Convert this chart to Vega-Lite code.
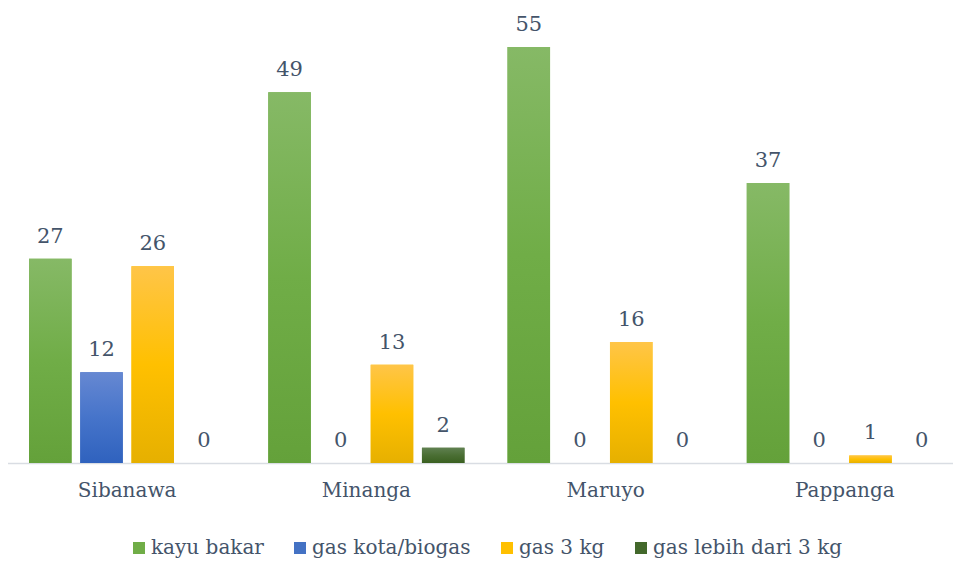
{
  "$schema": "https://vega.github.io/schema/vega-lite/v6.json",
  "width": 957,
  "height": 463,
  "autosize": {"type": "none"},
  "padding": {"left": 7.5, "top": 0, "right": 0, "bottom": 98},
  "background": "white",
  "config": {
    "view": {"stroke": null},
    "font": "DejaVu Serif",
    "axis": {"labelFont": "DejaVu Serif"},
    "legend": {"labelFont": "DejaVu Serif"}
  },
  "data": {
    "values": [
      {"desa": "Sibanawa", "jenis": "kayu bakar", "jumlah": 27},
      {"desa": "Sibanawa", "jenis": "gas kota/biogas", "jumlah": 12},
      {"desa": "Sibanawa", "jenis": "gas 3 kg", "jumlah": 26},
      {"desa": "Sibanawa", "jenis": "gas lebih dari 3 kg", "jumlah": 0},
      {"desa": "Minanga", "jenis": "kayu bakar", "jumlah": 49},
      {"desa": "Minanga", "jenis": "gas kota/biogas", "jumlah": 0},
      {"desa": "Minanga", "jenis": "gas 3 kg", "jumlah": 13},
      {"desa": "Minanga", "jenis": "gas lebih dari 3 kg", "jumlah": 2},
      {"desa": "Maruyo", "jenis": "kayu bakar", "jumlah": 55},
      {"desa": "Maruyo", "jenis": "gas kota/biogas", "jumlah": 0},
      {"desa": "Maruyo", "jenis": "gas 3 kg", "jumlah": 16},
      {"desa": "Maruyo", "jenis": "gas lebih dari 3 kg", "jumlah": 0},
      {"desa": "Pappanga", "jenis": "kayu bakar", "jumlah": 37},
      {"desa": "Pappanga", "jenis": "gas kota/biogas", "jumlah": 0},
      {"desa": "Pappanga", "jenis": "gas 3 kg", "jumlah": 1},
      {"desa": "Pappanga", "jenis": "gas lebih dari 3 kg", "jumlah": 0}
    ]
  },
  "encoding": {
    "x": {
      "field": "desa",
      "type": "nominal",
      "sort": ["Sibanawa", "Minanga", "Maruyo", "Pappanga"],
      "scale": {"domain": ["Sibanawa", "Minanga", "Maruyo", "Pappanga"], "paddingInner": 0.18, "paddingOuter": 0.09},
      "axis": {
        "title": null,
        "labelAngle": 0,
        "labelFontSize": 20,
        "labelColor": "#44546A",
        "labelPadding": 17,
        "ticks": false,
        "domainColor": "#D9DDE3",
        "domainWidth": 1.5
      }
    },
    "xOffset": {
      "field": "jenis",
      "type": "nominal",
      "scale": {"domain": ["kayu bakar", "gas kota/biogas", "gas 3 kg", "gas lebih dari 3 kg"], "paddingInner": 0.17, "paddingOuter": 0}
    },
    "y": {
      "field": "jumlah",
      "type": "quantitative",
      "scale": {"domain": [0, 61.2], "nice": false, "zero": true},
      "axis": null
    }
  },
  "layer": [
    {
      "mark": {"type": "bar"},
      "encoding": {
        "color": {
          "field": "jenis",
          "type": "nominal",
          "scale": {"domain": ["kayu bakar", "gas kota/biogas", "gas 3 kg", "gas lebih dari 3 kg"], "range": ["#70AD47", "#4472C4", "#FFC000", "#43682B"]},
          "legend": {
            "title": null,
            "orient": "none",
            "legendX": 121.5,
            "legendY": 538,
            "direction": "horizontal",
            "columns": 4,
            "columnPadding": 26,
            "symbolType": "square",
            "symbolSize": 144,
            "symbolStrokeWidth": 0,
            "labelOffset": 2,
            "labelFontSize": 20,
            "labelColor": "#44546A",
            "labelLimit": 400
          }
        }
      }
    },
    {
      "transform": [{"filter": "datum.jenis === 'kayu bakar'"}],
      "mark": {"type": "bar", "color": {"gradient": "linear", "x1": 0, "y1": 0, "x2": 0, "y2": 1, "stops": [{"offset": 0, "color": "#86B966"}, {"offset": 0.5, "color": "#70AD47"}, {"offset": 1, "color": "#64A13A"}]}}
    },
    {
      "transform": [{"filter": "datum.jenis === 'gas kota/biogas'"}],
      "mark": {"type": "bar", "color": {"gradient": "linear", "x1": 0, "y1": 0, "x2": 0, "y2": 1, "stops": [{"offset": 0, "color": "#6688D2"}, {"offset": 0.5, "color": "#4674CA"}, {"offset": 1, "color": "#2F62BE"}]}}
    },
    {
      "transform": [{"filter": "datum.jenis === 'gas 3 kg'"}],
      "mark": {"type": "bar", "color": {"gradient": "linear", "x1": 0, "y1": 0, "x2": 0, "y2": 1, "stops": [{"offset": 0, "color": "#FFC548"}, {"offset": 0.5, "color": "#FFC000"}, {"offset": 1, "color": "#E6B000"}]}}
    },
    {
      "transform": [{"filter": "datum.jenis === 'gas lebih dari 3 kg'"}],
      "mark": {"type": "bar", "color": {"gradient": "linear", "x1": 0, "y1": 0, "x2": 0, "y2": 1, "stops": [{"offset": 0, "color": "#5F8050"}, {"offset": 0.5, "color": "#4A6E33"}, {"offset": 1, "color": "#3A6020"}]}}
    },
    {
      "mark": {"type": "text", "baseline": "alphabetic", "dy": -16, "fontSize": 21, "color": "#44546A"},
      "encoding": {"text": {"field": "jumlah", "type": "quantitative"}}
    }
  ]
}
